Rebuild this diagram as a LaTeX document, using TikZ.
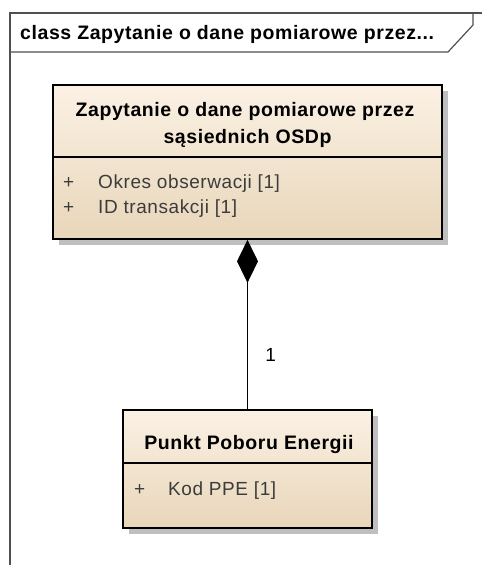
\documentclass[tikz,border=0pt]{standalone}
\usepackage{fontspec}
\setmainfont{Liberation Sans}
\newfontfamily\umlfont[LetterSpace=3]{Liberation Sans}
\usepackage{tikz}
\usetikzlibrary{arrows.meta, positioning, shadows}

\definecolor{classtop}{HTML}{FBF1E4}
\definecolor{classbot}{HTML}{E8D6BA}
\definecolor{attrgray}{HTML}{3C3C3C}
\definecolor{framegray}{HTML}{505050}

\begin{document}
\begin{tikzpicture}[
    x=1pt, y=-1pt,
    classbox/.style={rectangle, draw=black, line width=1.6pt, inner sep=0pt,
        top color=classtop, bottom color=classbot,
        drop shadow={shadow xshift=6pt, shadow yshift=-6pt, fill=black!25, opacity=1}},
    classname/.style={inner sep=0pt, anchor=base, font=\umlfont\fontsize{19.5}{23}\selectfont\bfseries},
    attr/.style={inner sep=0pt, anchor=base west, text=attrgray, font=\umlfont\fontsize{19}{23}\selectfont},
    frameline/.style={draw=framegray, line width=1.2pt},
    composition/.style={draw, line width=1.5pt, -{Diamond[length=43pt, width=21pt]}},
    mult/.style={inner sep=0pt, anchor=west, font=\umlfont\fontsize{19}{23}\selectfont},
]
\useasboundingbox (0,0) rectangle (482,565);

% frame
\draw[frameline] (10,565) -- (10,13) -- (482,13);
\draw[frameline] (10,52) -- (448,52) -- (473,25) -- (473,13);
\node[classname, anchor=base west] (hdr) at (20,39) {class Zapytanie o dane pomiarowe przez...};

% classes
\node[classbox, minimum width=389pt, minimum height=154pt] (zap) at (247.5,162) {};
\node[classbox, minimum width=249pt, minimum height=118pt] (ppe) at (247.5,469) {};

% Zapytanie
\node[classname] (zapt1) at (245,116.5) {Zapytanie o dane pomiarowe przez};
\node[classname] (zapt2) at (247.5,143) {sąsiednich OSDp};
\draw[line width=1.2pt] (zap.west |- 0,157) coordinate (zapsep) -- (zap.east |- zapsep);
\node[attr] (zapp1) at (63,188) {+};
\node[attr] (zapa1) at (98,188) {Okres obserwacji [1]};
\node[attr] (zapp2) at (63,213) {+};
\node[attr] (zapa2) at (98,213) {ID transakcji [1]};

% Punkt Poboru Energii
\node[classname] (ppet) at (249,449) {Punkt Poboru Energii};
\draw[line width=1.2pt] (ppe.west |- 0,463) coordinate (ppesep) -- (ppe.east |- ppesep);
\node[attr] (ppep1) at (134,495) {+};
\node[attr] (ppea1) at (168,495) {Kod PPE [1]};

% composition
\draw[composition] (ppe.north) -- node[mult, pos=0.32, right=17pt] (m1) {1} (zap.south);

\end{tikzpicture}
\end{document}
